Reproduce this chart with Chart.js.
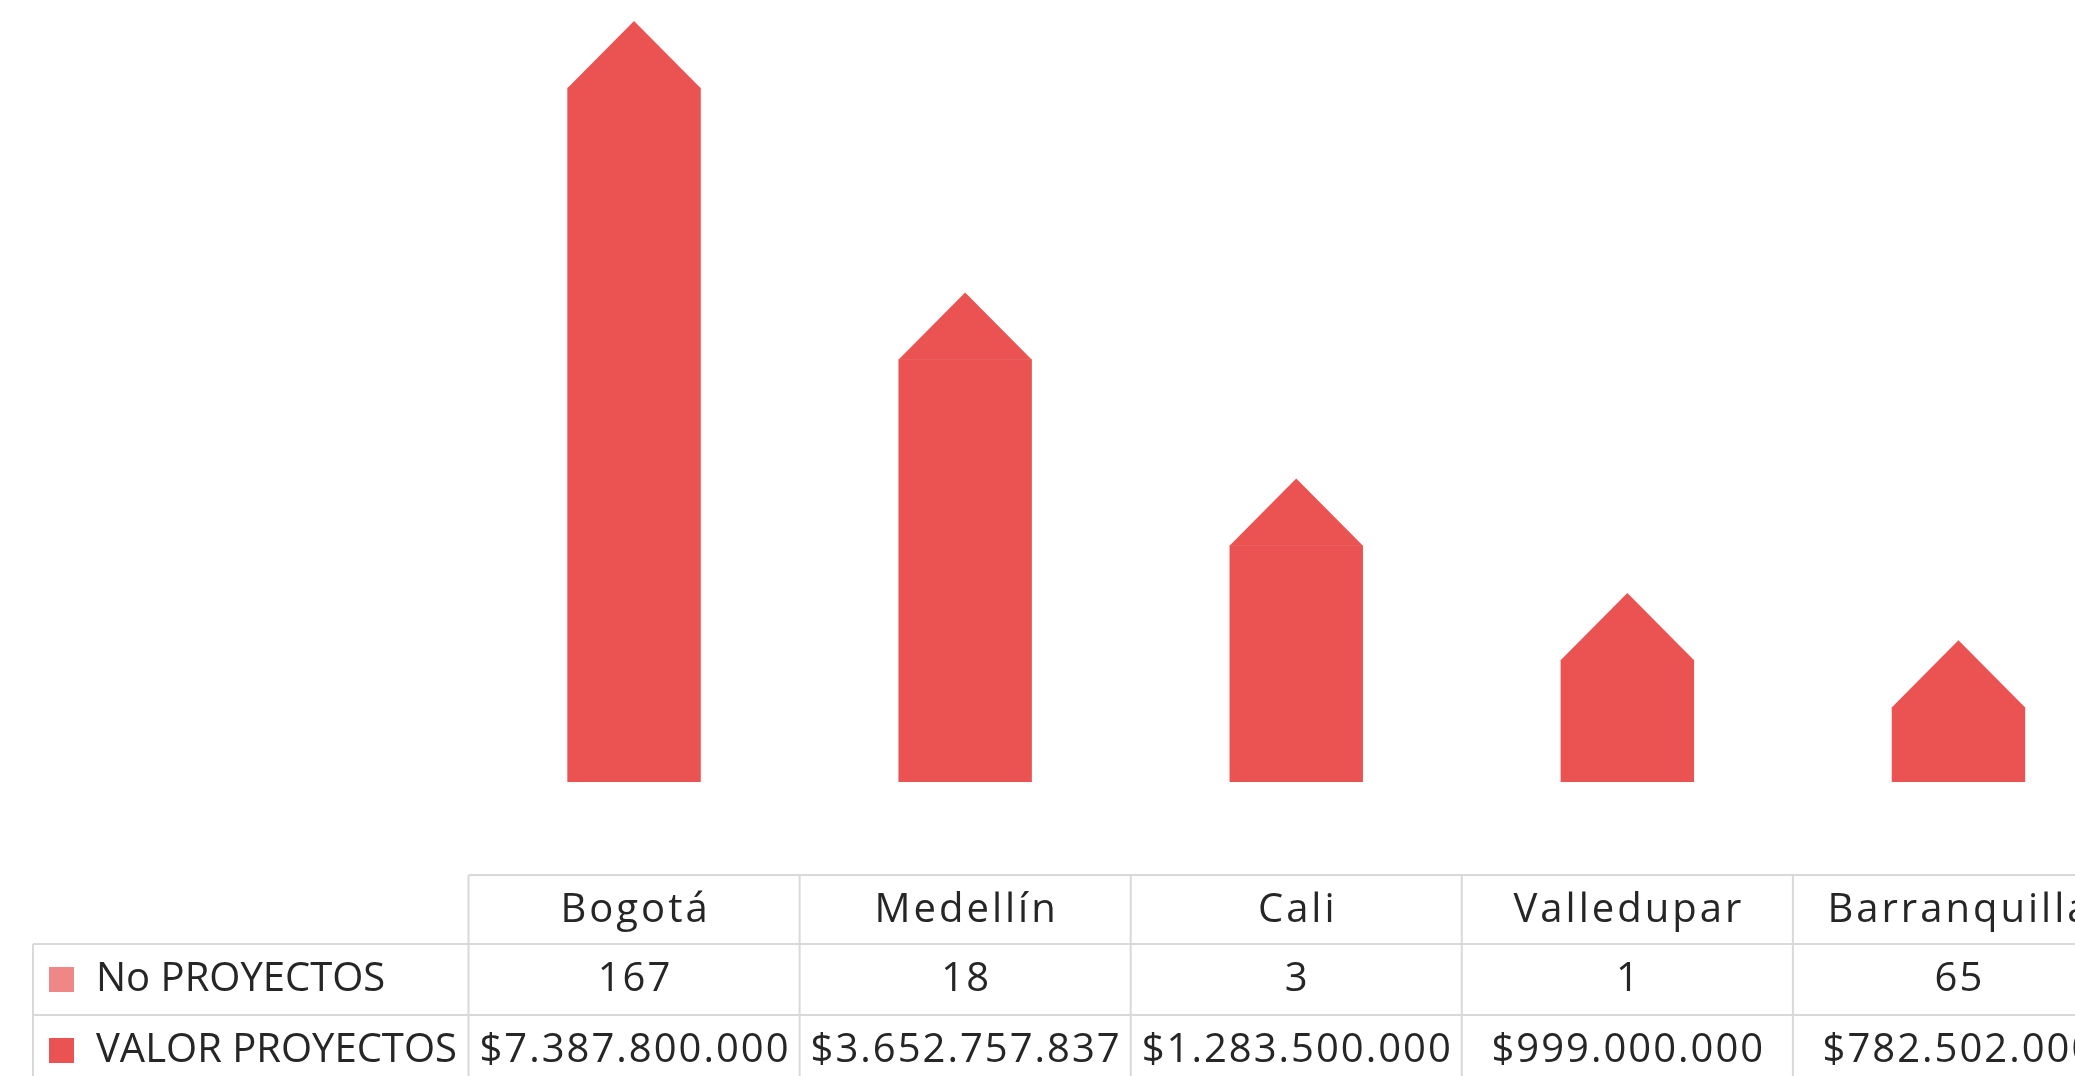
<!DOCTYPE html>
<html>
<head>
<meta charset="utf-8">
<script src="https://cdn.jsdelivr.net/npm/chart.js@4"></script>
<style>
  html, body { margin: 0; padding: 0; background: #ffffff; overflow: hidden; width: 2075px; height: 1076px; }
  #wrap { position: absolute; left: 0; top: 0; width: 2124px; height: 1100px; }
</style>
</head>
<body>
<div id="wrap"><canvas id="c" width="2124" height="1100"></canvas></div>
<script>
// ---- Data ----
const categories = ['Bogotá', 'Medellín', 'Cali', 'Valledupar', 'Barranquilla'];
const seriesNames = ['No PROYECTOS', 'VALOR PROYECTOS'];
const noProyectos = [167, 18, 3, 1, 65];
const valorProyectos = [7387800000, 3652757837, 1283500000, 999000000, 782502000];
// Visual bar heights (index, Bogotá = 100); the drawn bars are not to scale with the table values
const barHeights = [100, 60.9, 34.1, 17.6, 10.8];
const yMax = 112;

const seriesColors = ['#F08787', '#EB5353'];
const gridColor = '#D9D9D9';
const textColor = '#262626';
const FONT = '40px "Open Sans", sans-serif';

function fmtMoney(v) {
  return '$' + String(v).replace(/\B(?=(\d{3})+(?!\d))/g, '.');
}

// Roof (triangle) on top of each bar, derived from the bar element geometry
const roofPlugin = {
  id: 'roof',
  afterDatasetsDraw(chart) {
    const ctx = chart.ctx;
    chart.data.datasets.forEach((ds, di) => {
      const meta = chart.getDatasetMeta(di);
      meta.data.forEach((bar) => {
        const p = bar.getProps(['x', 'y', 'width'], true);
        const h = p.width / 2;
        ctx.save();
        ctx.fillStyle = ds.backgroundColor;
        ctx.beginPath();
        ctx.moveTo(p.x - p.width / 2, p.y + 0.5);
        ctx.lineTo(p.x, p.y - h);
        ctx.lineTo(p.x + p.width / 2, p.y + 0.5);
        ctx.closePath();
        ctx.fill();
        ctx.restore();
      });
    });
  }
};

// Data table under the plot, columns aligned to the category scale
const tablePlugin = {
  id: 'dataTable',
  afterDraw(chart) {
    const ctx = chart.ctx;
    const xs = chart.scales.x;
    const n = categories.length;
    const cw = (xs.right - xs.left) / n;
    const x0 = xs.left;
    const x1 = x0 + n * cw;
    const base = chart.chartArea.bottom;
    const headTop = base + 93;
    const r1 = headTop + 69;
    const r2 = r1 + 71;
    const r3 = r2 + 71;
    const leftEdge = 33;

    ctx.save();
    ctx.strokeStyle = gridColor;
    ctx.lineWidth = 2;
    ctx.beginPath();
    ctx.moveTo(x0, headTop); ctx.lineTo(x1, headTop);
    [r1, r2, r3].forEach(y => { ctx.moveTo(leftEdge, y); ctx.lineTo(x1, y); });
    ctx.moveTo(leftEdge, r1); ctx.lineTo(leftEdge, r3);
    for (let i = 0; i <= n; i++) {
      const x = x0 + i * cw;
      ctx.moveTo(x, headTop); ctx.lineTo(x, r3);
    }
    ctx.stroke();

    ctx.fillStyle = textColor;
    ctx.font = FONT;
    ctx.textBaseline = 'middle';
    ctx.textAlign = 'center';
    categories.forEach((c, i) => {
      const cx = xs.getPixelForValue(i);
      ctx.letterSpacing = '3px';
      ctx.fillText(c, cx + 1.5, (headTop + r1) / 2 + 1);
      ctx.letterSpacing = '2px';
      ctx.fillText(String(noProyectos[i]), cx + 1, (r1 + r2) / 2);
      ctx.fillText(fmtMoney(valorProyectos[i]), cx + 1, (r2 + r3) / 2);
    });

    ctx.letterSpacing = '0px';
    const rows = [[r1, r2], [r2, r3]];
    seriesNames.forEach((name, k) => {
      const cy = (rows[k][0] + rows[k][1]) / 2;
      ctx.fillStyle = seriesColors[k];
      ctx.fillRect(49, cy - 12.5, 25, 25);
      ctx.fillStyle = textColor;
      ctx.textAlign = 'left';
      ctx.fillText(name, 96, cy);
    });
    ctx.restore();
  }
};

new Chart(document.getElementById('c'), {
  type: 'bar',
  data: {
    labels: categories,
    datasets: [{
      label: seriesNames[1],
      data: barHeights,
      backgroundColor: seriesColors[1],
      borderWidth: 0,
      barPercentage: 0.403,
      categoryPercentage: 1
    }]
  },
  options: {
    responsive: false,
    animation: false,
    devicePixelRatio: 1,
    layout: { padding: { left: 468.5, right: 0, top: 4.4, bottom: 318 } },
    plugins: { legend: { display: false }, tooltip: { enabled: false } },
    scales: {
      x: { display: false, offset: true },
      y: { display: false, min: 0, max: yMax }
    }
  },
  plugins: [roofPlugin, tablePlugin]
});
</script>
</body>
</html>
